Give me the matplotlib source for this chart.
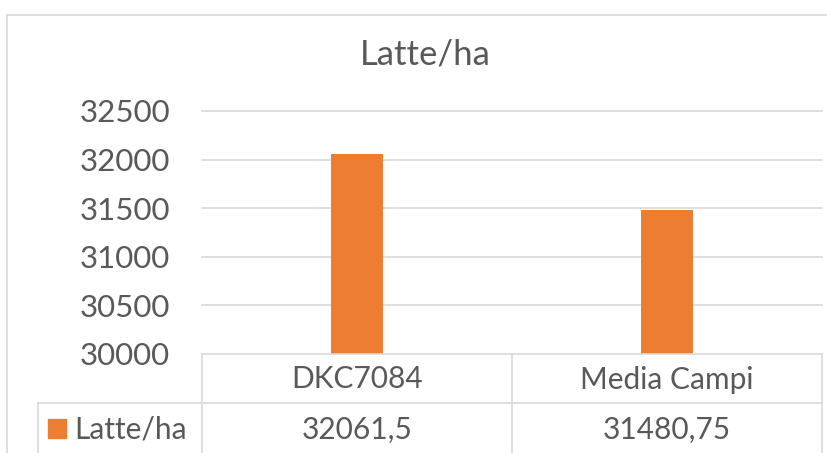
import matplotlib.pyplot as plt
from matplotlib.patches import Rectangle
from matplotlib.lines import Line2D

categories = ['DKC7084', 'Media Campi']
values = [32061.5, 31480.75]
value_labels = ['32061,5', '31480,75']
series_name = 'Latte/ha'
yticks = [30000, 30500, 31000, 31500, 32000, 32500]

W, H = 827, 453
orange = '#ED7D31'
grid = '#D9D9D9'
txt = '#595959'
plt.rcParams['font.family'] = ['Lato', 'DejaVu Sans']

fig = plt.figure(figsize=(W / 100, H / 100), dpi=100)

def fx(px):
    return px / W

def fy(py):
    return 1 - py / H

# plot area in pixels
left, right, top, bottom = 202, 822, 111, 354
ax = fig.add_axes([fx(left), fy(bottom), fx(right) - fx(left), fy(top) - fy(bottom)])
x = range(len(categories))
ax.bar(x, values, width=0.165, color=orange, zorder=3)
ax.set_xlim(-0.5, len(categories) - 0.5)
ax.set_ylim(30000, 32500)
ax.set_yticks(yticks)
ax.set_yticklabels([str(t) for t in yticks], fontsize=22.5, color=txt)
ax.tick_params(axis='y', length=0, pad=23)
ax.set_xticks([])
for t in yticks[1:]:
    ax.axhline(t, color=grid, lw=1.2, zorder=1, clip_on=False)
for s in ax.spines.values():
    s.set_visible(False)
ax.patch.set_alpha(0)

fig.text(fx(425), fy(55), series_name, ha='center', va='center', fontsize=25, color=txt)

# outer chart frame
fig.add_artist(Line2D([fx(7), fx(7)], [fy(15), 0], color=grid, lw=1.2))
fig.add_artist(Line2D([fx(7), 1], [fy(15), fy(15)], color=grid, lw=1.2))

# data table
col_edges = [202, 512, 822]
row_header = (354, 403)
row_data = (403, 453)
lines = [
    ([202, 822], [354, 354]),
    ([38, 822], [403, 403]),
    ([38, 38], [403, 453]),
]
for cx in col_edges:
    lines.append(([cx, cx], [354, 453]))
for xs, ys in lines:
    fig.add_artist(Line2D([fx(v) for v in xs], [fy(v) for v in ys], color=grid, lw=1.2))

for i, cat in enumerate(categories):
    cx = (col_edges[i] + col_edges[i + 1]) / 2
    fig.text(fx(cx), fy(sum(row_header) / 2 + 1), cat, ha='center', va='center',
             fontsize=21.5, color=txt)
    fig.text(fx(cx), fy(sum(row_data) / 2 + 2), value_labels[i], ha='center', va='center',
             fontsize=21.5, color=txt)

fig.add_artist(Rectangle((fx(48), fy(438)), fx(18), fy(419) - fy(438), color=orange,
                         transform=fig.transFigure))
fig.text(fx(74), fy(430), series_name, ha='left', va='center', fontsize=21.5, color=txt)

fig.savefig('out.png', dpi=100)
